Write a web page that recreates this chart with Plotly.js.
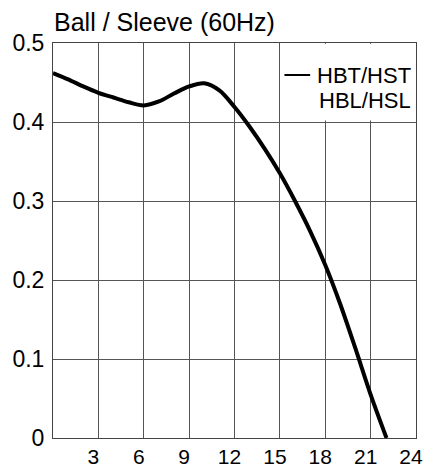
<!DOCTYPE html>
<html>
<head>
<meta charset="utf-8">
<script src="https://cdn.plot.ly/plotly-3.0.1.min.js"></script>
<style>html,body{margin:0;padding:0;background:#fff;}#chart{width:423px;height:470px;}</style>
</head>
<body>
<div id="chart"></div>
<script>
// Data
var flowRate = [0, 1, 2, 3, 4, 5, 6, 7, 8, 9, 10, 11, 12, 13, 14, 15, 16, 17, 18, 19, 20, 21, 22.05];
var headValues = [0.462, 0.454, 0.445, 0.437, 0.431, 0.425, 0.421, 0.426, 0.436, 0.445, 0.449, 0.440, 0.419, 0.394, 0.366, 0.335, 0.300, 0.262, 0.219, 0.169, 0.113, 0.055, 0];
var xTicks = [3, 6, 9, 12, 15, 18, 21, 24];
var yTicks = [0, 0.1, 0.2, 0.3, 0.4, 0.5];
var yTickLabels = ['0', '0.1', '0.2', '0.3', '0.4', '0.5'];
var legendLines = ['HBT/HST', 'HBL/HSL'];
var chartTitle = 'Ball / Sleeve (60Hz)';

var font = 'Liberation Sans, Arial, sans-serif';

var trace = {
  x: flowRate,
  y: headValues,
  type: 'scatter',
  mode: 'lines',
  name: legendLines.join(' '),
  line: {color: '#000', width: 4, shape: 'spline', smoothing: 0.9},
  showlegend: false,
  hoverinfo: 'skip'
};

var layout = {
  width: 423,
  height: 470,
  margin: {l: 53, r: 7, t: 43, b: 32, pad: 0},
  paper_bgcolor: '#fff',
  plot_bgcolor: '#fff',
  font: {family: font, size: 23, color: '#000'},
  title: {
    text: chartTitle,
    font: {family: font, size: 25, color: '#000'},
    xref: 'paper', x: 0, xanchor: 'left',
    yref: 'container', y: 1 - 22 / 470, yanchor: 'middle',
    pad: {l: 1}
  },
  xaxis: {
    range: [0, 24],
    tickvals: xTicks,
    ticktext: xTicks.map(String),
    showgrid: true,
    gridcolor: '#555',
    gridwidth: 1,
    showline: true,
    linecolor: '#444',
    linewidth: 1,
    mirror: true,
    ticks: '',
    zeroline: false,
    ticklabelstandoff: 0,
    ticklabelshift: -5,
    ticklabeloverflow: 'allow',
    tickfont: {family: font, size: 21, color: '#000'},
    fixedrange: true
  },
  yaxis: {
    range: [0, 0.5],
    tickvals: yTicks,
    ticktext: yTickLabels,
    showgrid: true,
    gridcolor: '#555',
    gridwidth: 1,
    showline: true,
    linecolor: '#444',
    linewidth: 1,
    mirror: true,
    ticks: '',
    zeroline: false,
    ticklabelstandoff: 3,
    ticklabeloverflow: 'allow',
    tickfont: {family: font, size: 23, color: '#000'},
    fixedrange: true
  },
  shapes: [
    {type: 'rect', xref: 'x', yref: 'y', x0: 15.12, x1: 23.97, y0: 0.402, y1: 0.499,
     fillcolor: '#fff', line: {width: 0}, layer: 'between'},
    {type: 'line', xref: 'x', yref: 'y', x0: 15.3, x1: 17.0, y0: 0.4595, y1: 0.4595,
     line: {color: '#000', width: 2}}
  ],
  annotations: [
    {xref: 'paper', yref: 'y', x: 0.993, y: 0.4595, xanchor: 'right', yanchor: 'middle',
     showarrow: false, text: legendLines[0],
     font: {family: font, size: 22, color: '#000'}},
    {xref: 'paper', yref: 'y', x: 0.993, y: 0.4275, xanchor: 'right', yanchor: 'middle',
     showarrow: false, text: legendLines[1],
     font: {family: font, size: 22, color: '#000'}}
  ]
};

Plotly.newPlot('chart', [trace], layout, {displayModeBar: false, staticPlot: true});
</script>
</body>
</html>
